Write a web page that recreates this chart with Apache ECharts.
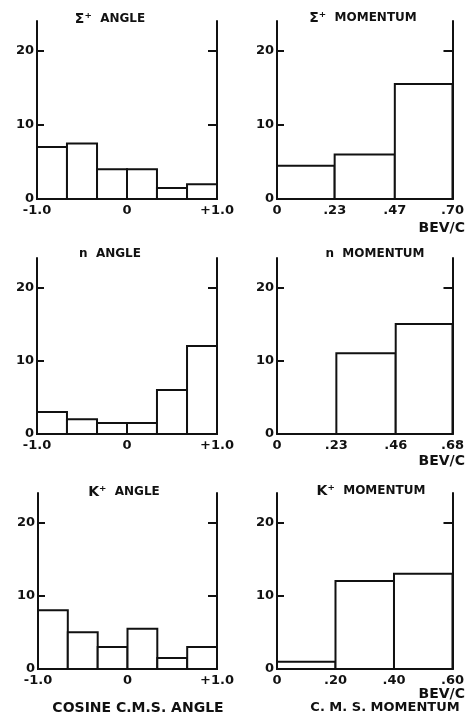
<!DOCTYPE html>
<html>
<head>
<meta charset="utf-8">
<script src="https://cdn.jsdelivr.net/npm/echarts@6/dist/echarts.min.js"></script>
<style>html,body{margin:0;padding:0;background:#fff}#c{width:467px;height:719px}</style>
</head>
<body>
<div id="c"></div>
<script>
// ---- data ----
const angleEdges = [-1, -0.667, -0.333, 0, 0.333, 0.667, 1];
const angleTickValues = [-1, 0, 1];
const angleTickLabels = ['-1.0', '0', '+1.0'];

const sigmaAngleCounts = [7, 7.5, 4, 4, 1.5, 2];
const sigmaMomEdges = [0, 0.23, 0.47, 0.70];
const sigmaMomLabels = ['0', '.23', '.47', '.70'];
const sigmaMomCounts = [4.5, 6, 15.5];

const nAngleCounts = [3, 2, 1.5, 1.5, 6, 12];
const nMomEdges = [0, 0.23, 0.46, 0.68];
const nMomLabels = ['0', '.23', '.46', '.68'];
const nMomCounts = [0, 11, 15];

const kAngleCounts = [8, 5, 3, 5.5, 1.5, 3];
const kMomEdges = [0, 0.20, 0.40, 0.60];
const kMomLabels = ['0', '.20', '.40', '.60'];
const kMomCounts = [1, 12, 13];

const yTickValues = [0, 10, 20];
const yTickLabels = ['0', '10', '20'];
const yInnerTicks = [10, 20];

const titlePrefixes = ['\u03A3\u207A', '\u03A3\u207A', 'n', 'n', 'K\u207A', 'K\u207A'];
const titleWords = ['ANGLE', 'MOMENTUM', 'ANGLE', 'MOMENTUM', 'ANGLE', 'MOMENTUM'];
const unitLabel = 'BEV/C';
const bottomLeftLabel = 'COSINE C.M.S. ANGLE';
const bottomRightLabel = 'C. M. S. MOMENTUM';

// ---- layout ----
const FONT = 'DejaVu Sans';
const grids = [
  {left: 37, top: 21, width: 180, height: 178},
  {left: 277, top: 21, width: 179, height: 178},
  {left: 37, top: 258, width: 180, height: 176},
  {left: 277, top: 258, width: 180, height: 176},
  {left: 38, top: 493, width: 179, height: 176},
  {left: 277, top: 493, width: 180, height: 176}
];
const panels = [
  {edges: angleEdges, counts: sigmaAngleCounts, tv: angleTickValues, tl: angleTickLabels},
  {edges: sigmaMomEdges, counts: sigmaMomCounts, tv: sigmaMomEdges, tl: sigmaMomLabels},
  {edges: angleEdges, counts: nAngleCounts, tv: angleTickValues, tl: angleTickLabels},
  {edges: nMomEdges, counts: nMomCounts, tv: nMomEdges, tl: nMomLabels},
  {edges: angleEdges, counts: kAngleCounts, tv: angleTickValues, tl: angleTickLabels},
  {edges: kMomEdges, counts: kMomCounts, tv: kMomEdges, tl: kMomLabels}
];

function binData(edges, counts) {
  return counts.map((c, i) => [edges[i], edges[i + 1], c]);
}
function renderItem(params, api) {
  const x0 = api.value(0), x1 = api.value(1), v = api.value(2);
  if (!v) return null;
  const p0 = api.coord([x0, 0]);
  const p1 = api.coord([x1, v]);
  return {
    type: 'rect',
    shape: {x: p0[0], y: p1[1], width: p1[0] - p0[0], height: p0[1] - p1[1]},
    style: {fill: '#fff', stroke: '#111', lineWidth: 2}
  };
}

const axisLine = {show: true, onZero: false, lineStyle: {color: '#111', width: 2}};
const xAxes = [], yAxes = [], series = [];
panels.forEach((p, i) => {
  const tv = p.tv, tl = p.tl;
  xAxes.push({
    gridIndex: i, type: 'value',
    min: p.edges[0], max: p.edges[p.edges.length - 1],
    axisLine: axisLine, axisTick: {show: false}, splitLine: {show: false},
    axisLabel: {
      customValues: tv, margin: 5, color: '#111', fontFamily: FONT, fontSize: 13, fontWeight: 'bold',
      formatter: v => { const k = tv.findIndex(t => Math.abs(t - v) < 1e-6); return k >= 0 ? tl[k] : ''; }
    }
  });
  yAxes.push({
    gridIndex: i, type: 'value', position: 'left', min: 0, max: 24, interval: 10,
    axisLine: axisLine, splitLine: {show: false},
    axisTick: {show: true, inside: true, length: 7, customValues: yInnerTicks, lineStyle: {color: '#111', width: 2}},
    axisLabel: {customValues: yTickValues, margin: 3, color: '#111', fontFamily: FONT, fontSize: 13, fontWeight: 'bold',
      formatter: v => { const k = yTickValues.indexOf(v); return k >= 0 ? yTickLabels[k] : ''; }}
  });
  yAxes.push({
    gridIndex: i, type: 'value', position: 'right', min: 0, max: 24, interval: 10,
    axisLine: axisLine, splitLine: {show: false},
    axisTick: {show: true, inside: true, length: 9, customValues: yInnerTicks, lineStyle: {color: '#111', width: 2}},
    axisLabel: {show: false}
  });
  series.push({
    type: 'custom', coordinateSystem: 'cartesian2d',
    xAxisIndex: i, yAxisIndex: 2 * i,
    encode: {x: [0, 1], y: 2},
    data: binData(p.edges, p.counts),
    renderItem: renderItem, silent: true, z: 3
  });
});

const titleStyle = {
  color: '#111', fontFamily: FONT, fontSize: 12, fontWeight: 'bold',
  rich: {
    p: {color: '#111', fontFamily: FONT, fontSize: 14, fontWeight: 'bold'},
    q: {color: '#111', fontFamily: FONT, fontSize: 12, fontWeight: 'bold'}
  }
};
const titlePos = [[110, 12], [363, 11], [110, 248], [375, 248], [124, 485], [371, 484]];
const titleOpts = titleWords.map((w, i) => ({
  text: '{' + (titlePrefixes[i] === 'n' ? 'q' : 'p') + '|' + titlePrefixes[i] + '}  ' + w,
  left: titlePos[i][0], top: titlePos[i][1], textAlign: 'center',
  textStyle: titleStyle, padding: 0
}));

function txt(x, y, s, size, align) {
  return {type: 'text', x: x, y: y, style: {text: s, fill: '#111', font: 'bold ' + size + 'px "' + FONT + '"', textAlign: align || 'center', textVerticalAlign: 'middle'}};
}
const graphics = [
  txt(465, 228, unitLabel, 14, 'right'),
  txt(465, 461, unitLabel, 14, 'right'),
  txt(465, 694, unitLabel, 14, 'right'),
  txt(138, 708, bottomLeftLabel, 14),
  txt(385, 708, bottomRightLabel, 13)
];

const chart = echarts.init(document.getElementById('c'), null, {renderer: 'canvas'});
chart.setOption({
  animation: false,
  backgroundColor: '#fff',
  title: titleOpts,
  grid: grids,
  xAxis: xAxes,
  yAxis: yAxes,
  series: series,
  graphic: graphics
});
</script>
</body>
</html>
